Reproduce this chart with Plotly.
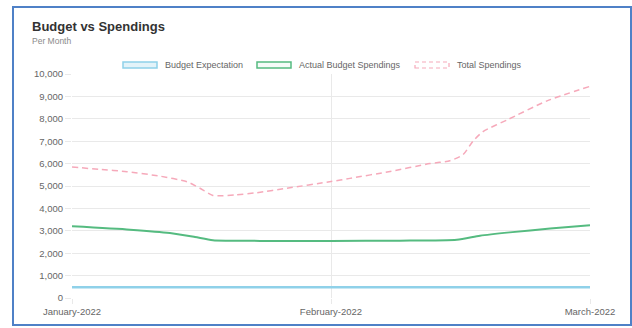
import plotly.graph_objects as go

# ---------------- data ----------------
months = ["January-2022", "February-2022", "March-2022"]
month_pos = [0, 1, 2]

series_names = ["Budget Expectation", "Actual Budget Spendings", "Total Spendings"]

budget_x = [0, 1, 2]
budget_vals = [480, 480, 480]

actual_x = [0, 0.224, 0.378, 0.475, 0.544, 0.726, 1.0, 1.266, 1.486, 1.575, 1.69, 1.846, 2.0]
actual_vals = [3200, 3050, 2900, 2720, 2580, 2550, 2550, 2560, 2600, 2780, 2930, 3100, 3250]

total_x = [0, 0.108, 0.212, 0.34, 0.444, 0.494, 0.544, 0.629, 0.714, 0.83, 1.0, 1.073,
           1.228, 1.382, 1.459, 1.51, 1.548, 1.587, 1.68, 1.834, 2.0]
total_vals = [5850, 5740, 5640, 5440, 5190, 4900, 4580, 4600, 4700, 4900, 5200, 5340,
              5650, 6000, 6130, 6400, 7000, 7430, 7950, 8800, 9450]

y_ticks = list(range(0, 10001, 1000))
y_ticktext = [f"{v:,}" for v in y_ticks]

# ---------------- styles ----------------
W, H = 632, 328
L, R, T, B = 72, 42, 74, 30
PW, PH = W - L - R, H - T - B

def px(x):
    return (x - L) / PW

def py(y):
    return (H - B - y) / PH

blue = "#8fd1e9"
green = "#55bb80"
pink = "#f6a9ba"
font = "Liberation Sans, Arial, sans-serif"

fig = go.Figure()
fig.add_trace(go.Scatter(x=budget_x, y=budget_vals, mode="lines", name=series_names[0],
                         line=dict(color=blue, width=2.5), showlegend=False))
fig.add_trace(go.Scatter(x=actual_x, y=actual_vals, mode="lines", name=series_names[1],
                         line=dict(color=green, width=2, shape="spline", smoothing=0.6),
                         showlegend=False))
fig.add_trace(go.Scatter(x=total_x, y=total_vals, mode="lines", name=series_names[2],
                         line=dict(color=pink, width=1.5, dash="6px,4px", shape="spline", smoothing=0.6),
                         showlegend=False))

shapes = []
annotations = []

# custom Chart.js-style legend
legend_box_x = [123, 257, 415]
box_w, box_y0, box_y1 = 34, 62, 68
box_styles = [
    dict(line=dict(color=blue, width=1.5), fillcolor="rgba(143,209,233,0.25)"),
    dict(line=dict(color=green, width=1.5), fillcolor="rgba(85,187,128,0.06)"),
    dict(line=dict(color=pink, width=1.2, dash="4px,3px"), fillcolor="rgba(0,0,0,0)"),
]
for name, bx, st in zip(series_names, legend_box_x, box_styles):
    shapes.append(dict(type="rect", xref="paper", yref="paper",
                       x0=px(bx), x1=px(bx + box_w), y0=py(box_y1), y1=py(box_y0), **st))
    annotations.append(dict(text=name, xref="paper", yref="paper", x=px(bx + box_w + 6),
                            y=py(65), xanchor="left", yanchor="middle", showarrow=False,
                            font=dict(family=font, size=9, color="#666666")))

# title & subtitle
annotations.append(dict(text="<b>Budget vs Spendings</b>", xref="paper", yref="paper",
                        x=px(30), y=py(27), xanchor="left", yanchor="middle", showarrow=False,
                        font=dict(family=font, size=13, color="#333333")))
annotations.append(dict(text="Per Month", xref="paper", yref="paper",
                        x=px(30), y=py(41.5), xanchor="left", yanchor="middle", showarrow=False,
                        font=dict(family=font, size=8.5, color="#8a8a8a")))

# blue screenshot frame
shapes.append(dict(type="rect", xref="paper", yref="paper",
                   x0=px(13), x1=px(631), y0=py(325), y1=py(7),
                   line=dict(color="#4f81c7", width=2), fillcolor="rgba(0,0,0,0)", layer="above"))

grid = "#e9e9e9"
fig.update_layout(
    width=W, height=H,
    margin=dict(l=L, r=R, t=T, b=B, pad=0),
    paper_bgcolor="white", plot_bgcolor="white",
    font=dict(family=font, size=9.5, color="#666666"),
    shapes=shapes, annotations=annotations,
    xaxis=dict(range=[0, 2], tickvals=month_pos, ticktext=months, showgrid=True,
               gridcolor=grid, gridwidth=1, zeroline=False, showline=False,
               ticks="outside", ticklen=5, tickcolor=grid, fixedrange=True),
    yaxis=dict(range=[0, 10000], tickvals=y_ticks, ticktext=y_ticktext, showgrid=True,
               gridcolor=grid, gridwidth=1, zeroline=False, showline=False,
               ticks="outside", ticklen=6, tickcolor=grid, fixedrange=True),
)

fig.write_html("out.html")
